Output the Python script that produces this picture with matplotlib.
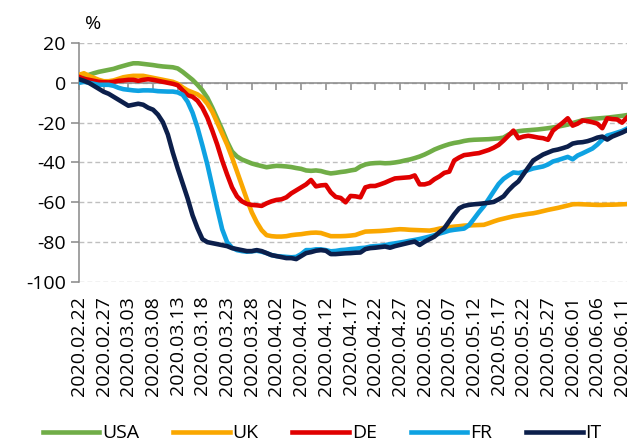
import matplotlib
matplotlib.use('Agg')
import matplotlib.pyplot as plt
import numpy as np
import pandas as pd

plt.rcParams['font.family'] = ['Open Sans', 'DejaVu Sans']
plt.rcParams['axes.unicode_minus'] = False

# daily values from 2020.02.22
dates = pd.date_range('2020-02-22', periods=112)

usa = [3.3, 3.5, 4.0, 4.8, 5.5, 6.0, 6.5, 7.0, 7.8, 8.5,
       9.2, 9.8, 9.8, 9.5, 9.2, 8.9, 8.5, 8.2, 8.0, 7.8,
       7.2, 5.5, 3.5, 1.5, -1.0, -3.8, -7.5, -12.5, -18.0, -23.5,
       -29.5, -34.5, -37.0, -38.5, -39.5, -40.5, -41.2, -41.8, -42.4, -42.0,
       -41.7, -41.8, -42.0, -42.3, -42.8, -43.2, -44.0, -44.2, -44.0, -44.3,
       -45.0, -45.5, -45.2, -44.8, -44.5, -44.0, -43.6, -42.0, -41.0, -40.5,
       -40.3, -40.2, -40.4, -40.3, -40.0, -39.6, -39.0, -38.5, -37.8, -37.0,
       -36.0, -34.8, -33.5, -32.5, -31.6, -30.8, -30.2, -29.8, -29.2, -28.8,
       -28.6, -28.5, -28.4, -28.3, -28.1, -27.9, -27.5, -26.0, -25.0, -24.3,
       -24.0, -23.8, -23.6, -23.4, -23.1, -22.8, -22.4, -22.0, -21.5, -21.0,
       -20.2, -19.5, -18.8, -18.4, -18.1, -17.9, -17.7, -17.5, -17.2, -16.9, -16.6, -16.2]

uk = [4.0, 4.8, 3.5, 2.5, 1.5, 0.8, 0.8, 1.2, 2.0, 2.8,
      3.2, 3.5, 3.5, 3.5, 3.0, 2.5, 2.0, 1.5, 1.0, 0.5,
      -0.5, -2.3, -3.8, -4.8, -5.8, -7.5, -10.5, -14.5, -20.0, -25.5,
      -31.0, -37.5, -44.5, -51.5, -58.5, -65.0, -70.0, -74.0, -76.5, -77.0,
      -77.2, -77.2, -77.0, -76.5, -76.2, -76.0, -75.6, -75.3, -75.2, -75.4,
      -76.2, -77.0, -77.0, -77.0, -76.9, -76.7, -76.4, -75.5, -74.7, -74.6,
      -74.5, -74.4, -74.2, -74.0, -73.7, -73.5, -73.6, -73.8, -73.9, -74.0,
      -74.1, -74.2, -73.8, -73.2, -72.8, -72.5, -72.2, -72.0, -71.7, -71.6,
      -71.5, -71.4, -71.3, -70.5, -69.6, -68.8, -68.2, -67.6, -67.0, -66.6,
      -66.2, -65.8, -65.5, -65.0, -64.4, -63.8, -63.3, -62.8, -62.2, -61.6,
      -61.0, -60.9, -61.0, -61.1, -61.2, -61.3, -61.3, -61.2, -61.2, -61.1, -61.0, -60.9]

de = [3.0, 2.0, 1.5, 1.0, 0.5, 0.3, 0.2, 0.5, 1.0, 1.2,
      1.5, 1.5, 1.0, 1.5, 1.8, 1.5, 1.0, 0.5, 0.0, -0.5,
      -1.2, -3.8, -6.2, -7.0, -9.0, -12.5, -17.5, -24.0, -31.0, -39.0,
      -46.0, -52.5, -57.0, -59.5, -60.8, -61.3, -61.5, -61.8, -60.5, -59.5,
      -58.8, -58.5, -57.5, -55.5, -54.0, -52.5, -51.0, -48.8, -52.0, -51.5,
      -51.3, -55.0, -57.3, -57.8, -60.0, -56.8, -57.0, -57.5, -52.5, -51.8,
      -51.8, -51.0, -50.1, -49.0, -48.0, -47.8, -47.6, -47.4, -46.5, -51.0,
      -51.0, -50.3, -48.4, -47.0, -45.2, -44.6, -39.0, -37.5, -36.3, -36.0,
      -35.6, -35.3, -34.5, -33.7, -32.6, -31.2, -29.0, -26.5, -24.0, -27.8,
      -27.0, -26.6, -27.0, -27.5, -27.8, -28.6, -24.0, -22.0, -20.0, -17.8,
      -21.5, -20.5, -18.9, -19.2, -19.8, -20.5, -22.8, -17.8, -18.2, -18.4, -20.0, -17.5]

fr = [0.0, 0.5, 0.0, -0.5, -1.0, -1.0, -1.0, -1.5, -2.5, -3.2,
      -3.5, -3.8, -4.0, -3.8, -3.8, -3.9, -4.2, -4.3, -4.4, -4.4,
      -4.8, -6.0, -9.5, -15.0, -22.5, -31.5, -41.0, -52.0, -63.0, -73.5,
      -80.0, -82.8, -84.0, -84.5, -84.8, -84.6, -84.3, -84.8, -85.5, -86.5,
      -87.0, -87.2, -87.4, -87.6, -87.4, -86.0, -84.0, -84.0, -83.6, -83.6,
      -84.0, -84.6, -84.4, -84.0, -83.8, -83.5, -83.3, -83.0, -82.8, -82.2,
      -82.0, -81.8, -81.5, -81.0, -80.6, -80.2, -79.8, -79.3, -78.9, -78.4,
      -77.8, -77.2, -76.5, -75.7, -75.0, -74.2, -73.8, -73.5, -73.2, -71.5,
      -68.3, -65.0, -62.0, -58.3, -54.5, -50.8, -48.2, -46.5, -45.0, -45.3,
      -44.8, -43.8, -43.0, -42.5, -42.0, -41.0, -39.5, -38.8, -38.0, -37.2,
      -38.4, -36.5, -35.4, -34.2, -33.0, -31.0, -28.5, -26.5, -25.8, -25.0, -24.2, -23.0]

it = [1.8, 1.0, 0.0, -1.5, -3.0, -4.5, -5.5, -7.0, -8.5, -10.0,
      -11.5, -11.0, -10.5, -11.0, -12.5, -13.5, -16.0, -19.8, -26.0, -35.0,
      -43.0, -50.5, -58.0, -66.5, -73.0, -78.5, -80.0, -80.5, -81.0, -81.5,
      -82.0, -83.0, -83.5, -84.0, -84.5, -84.5, -84.0, -84.5, -85.5, -86.5,
      -87.0, -87.5, -88.0, -88.0, -88.5, -87.0, -85.5, -85.0, -84.3, -84.0,
      -84.3, -86.0, -86.0, -85.8, -85.6, -85.5, -85.3, -85.2, -83.5, -83.0,
      -82.8, -82.5, -82.2, -82.8, -82.0, -81.4, -80.8, -80.2, -79.7, -81.4,
      -79.8, -78.5, -77.2, -75.0, -73.0, -69.5, -66.0, -63.0, -61.8, -61.3,
      -61.0, -60.8, -60.5, -60.2, -59.8, -58.5, -57.0, -54.0, -51.5, -49.5,
      -46.0, -42.5, -39.0, -37.5, -36.0, -35.0, -34.0, -33.5, -32.8, -32.0,
      -30.5, -30.0, -29.8, -29.3, -28.5, -27.5, -27.0, -28.5, -27.0, -26.0, -25.0, -23.8]

names = ['USA', 'UK', 'DE', 'FR', 'IT']
colors = ['#70AD47', '#FAA700', '#E00000', '#0EA2E2', '#0C1F4B']

x = np.arange(len(dates))
ticks = x[::5]
tick_labels = [d.strftime('%Y.%m.%d') for d in dates[::5]]

fig = plt.figure(figsize=(6.33, 4.44), dpi=100)
ax = fig.add_axes([0.1248, 0.3649, 0.8657, 0.5383])

for name, vals, c in zip(names, [usa, uk, de, fr, it], colors):
    ax.plot(x, vals, color=c, lw=3.3, label=name, zorder=3,
            solid_joinstyle='round')

ax.set_xlim(0, len(dates) - 1)
ax.set_ylim(-100, 20)
ax.set_yticks(range(-100, 21, 20))
ax.yaxis.grid(True, color='#BFBFBF', lw=1.0, linestyle=(0, (3.5, 2.2)))
ax.set_axisbelow(True)

for s in ['top', 'right']:
    ax.spines[s].set_visible(False)
ax.spines['left'].set_color('#888888')
ax.spines['left'].set_linewidth(1.1)
ax.spines['bottom'].set_position(('data', 0))
ax.spines['bottom'].set_color('#888888')
ax.spines['bottom'].set_linewidth(1.1)

ax.set_xticks(ticks)
ax.tick_params(axis='x', length=5, width=1.1, color='#888888', labelbottom=False)
ax.tick_params(axis='y', length=5.5, width=1.1, color='#888888', pad=4, labelsize=14)

sec = ax.secondary_xaxis('bottom')
sec.set_xticks(ticks, labels=tick_labels)
sec.tick_params(length=0, pad=10, labelsize=14, labelrotation=90)
sec.spines['bottom'].set_visible(False)

fig.text(93 / 633, 1 - 24 / 444, '%', ha='center', va='center', fontsize=14)

fig.legend(loc='center', bbox_to_anchor=(0.509, 0.024), ncol=5, frameon=False,
           fontsize=14, handlelength=2.9, handletextpad=0.15, columnspacing=1.75)

fig.savefig('out.png', dpi=100)
